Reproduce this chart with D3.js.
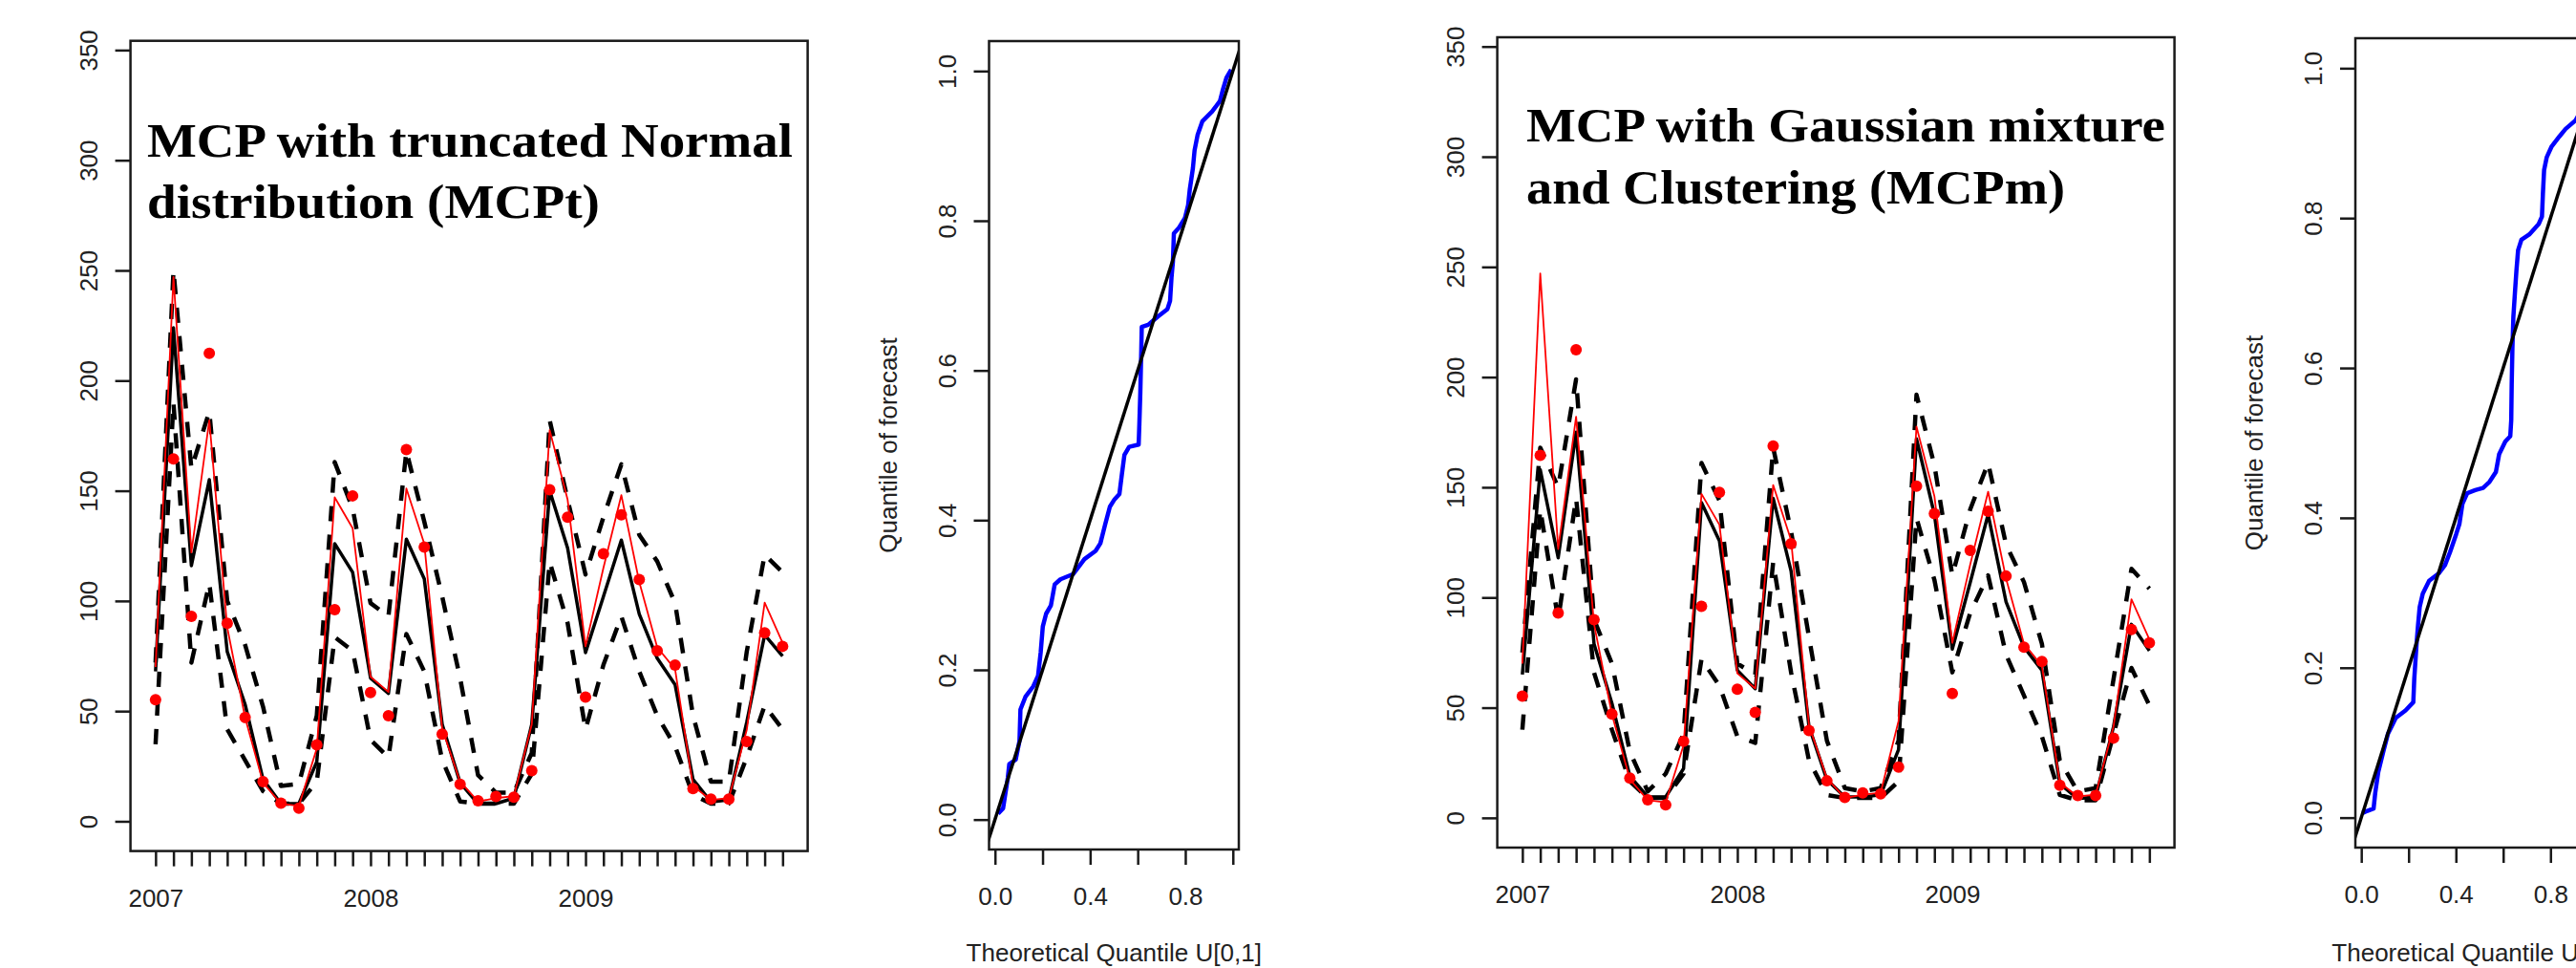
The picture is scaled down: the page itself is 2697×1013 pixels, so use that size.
<!DOCTYPE html>
<html><head><meta charset="utf-8">
<script src="https://cdn.jsdelivr.net/npm/d3@7"></script>
<style>body{margin:0;background:#fff}svg{display:block}</style>
</head><body>
<svg id="chart" width="2697" height="1013"></svg>
<script>
// ---------------- DATA ----------------
const months = ["2007-01","2007-02","2007-03","2007-04","2007-05","2007-06","2007-07","2007-08","2007-09","2007-10","2007-11","2007-12",
                "2008-01","2008-02","2008-03","2008-04","2008-05","2008-06","2008-07","2008-08","2008-09","2008-10","2008-11","2008-12",
                "2009-01","2009-02","2009-03","2009-04","2009-05","2009-06","2009-07","2009-08","2009-09","2009-10","2009-11","2009-12"];
const yearTickMonths = ["2007-01","2008-01","2009-01"];
const yearTickLabels = ["2007","2008","2009"];
const seriesTicks = [0,50,100,150,200,250,300,350];
const qqTicks = [0,0.2,0.4,0.6,0.8,1.0];
const qqTickLabels = ["0.0","","0.4","","0.8",""];

const observed = [55.2,164.5,93,212.4,89.9,47.1,18,8.2,5.9,34.7,96,147.7,58.4,47.9,168.7,124.4,39.6,16.8,9.3,11.3,10.9,23,150.5,138,56.4,121.4,139.1,109.7,77.4,70.9,14.8,10.1,10.1,36.2,85.5,79.4];
const benchmark = [70,247,122,182,88,47,17.5,8,7,33,147,133,65.6,58.7,151,126,42,18,9,10.5,11.4,44,177.5,146,79.4,115,148,108.6,79,69,16,9.7,10.5,41.5,99.2,81];

const mcptMedian = [68,224,116,155,77,53,19,8,8,27,126,113,65,58,128,110,44,17.5,8,8,10.5,44,150,124,76.5,102,127.6,94,74,62,19,8.8,9.7,45,84.6,75];
const mcptUpper  = [72,250,160,186,100,80,52,16,17,48,163,142,99,93,168,136,102,65,21,13,13,31,182,146,112,138,162,130,118,99,48,18,18,77,121,113];
const mcptLower  = [35,190,72,108,41.7,27.7,13.7,8,8,18,83.6,77.4,37,29,85,68,27.7,9,8,8,8,21.5,117.8,90,41.7,71,93,68,48,34,12,8,8,29,52.5,41.7];

const mcpmMedian = [65,158,118,175,79,52,19,9.5,9.5,22.4,143,125.7,67,58.6,145,112,41.4,17.3,9.5,9.5,10.4,31,172,137.7,76.6,106.8,137.7,98,77.5,67,15.5,8.7,9.5,41.4,87.8,75.8];
const mcpmUpper  = [75,168,150,199,90,70,30,12,20,38,161,144,70,65,168,130,82,35,13.5,12,13.5,35,192,160,110,140,161,124,107,79,26,12,13.5,63,113,104];
const mcpmLower  = [40,140,90,145,66,40,16.6,9,9,20,72,60,37,34,116,66,26,10.4,9,9,9,16.6,136,108,66,93,110,74,55.5,37,10.4,8,8,38,68,51];

const qqMcptU = [0.013,0.034,0.054,0.06,0.087,0.103,0.107,0.128,0.161,0.181,0.192,0.201,0.215,0.235,0.251,0.275,0.329,0.376,0.423,0.443,0.463,0.483,0.503,0.523,0.533,0.544,0.564,0.604,0.607,0.611,0.615,0.617,0.644,0.685,0.725,0.736,0.742,0.748,0.752,0.772,0.799,0.812,0.819,0.832,0.839,0.852,0.872,0.913,0.946,0.957,0.973,0.993];
const qqMcptQ = [0.008,0.015,0.056,0.074,0.08,0.105,0.147,0.164,0.178,0.192,0.223,0.258,0.275,0.286,0.314,0.321,0.328,0.348,0.359,0.369,0.394,0.418,0.428,0.435,0.46,0.487,0.498,0.501,0.529,0.571,0.627,0.658,0.661,0.672,0.682,0.693,0.724,0.745,0.783,0.79,0.804,0.821,0.842,0.87,0.894,0.915,0.933,0.946,0.96,0.974,0.991,1.002];

const qqMcpmU = [0.005,0.026,0.052,0.059,0.072,0.093,0.113,0.146,0.187,0.22,0.224,0.234,0.24,0.247,0.26,0.287,0.328,0.354,0.375,0.401,0.415,0.428,0.448,0.482,0.515,0.542,0.569,0.583,0.609,0.63,0.634,0.636,0.639,0.643,0.65,0.656,0.663,0.677,0.71,0.75,0.764,0.768,0.773,0.784,0.804,0.838,0.864,0.905,0.95,0.99];
const qqMcpmQ = [0.006,0.009,0.012,0.033,0.061,0.088,0.112,0.133,0.143,0.154,0.185,0.233,0.257,0.281,0.299,0.316,0.326,0.337,0.354,0.378,0.392,0.419,0.433,0.437,0.44,0.448,0.461,0.485,0.502,0.509,0.53,0.578,0.626,0.668,0.702,0.73,0.757,0.771,0.778,0.792,0.802,0.833,0.864,0.881,0.895,0.909,0.919,0.93,0.955,0.995];

const titleMcpt = ["MCP with truncated Normal","distribution (MCPt)"];
const titleMcpm = ["MCP with Gaussian mixture","and Clustering (MCPm)"];
const qqYLabel = "Quantile of forecast";
const qqXLabel = "Theoretical Quantile U[0,1]";

// ---------------- DRAWING ----------------
const svg = d3.select("#chart");
svg.append("rect").attr("width",2697).attr("height",1013).attr("fill","#fff");
const SANS = "'Liberation Sans', Arial, sans-serif";
const SERIF = "'Liberation Serif', 'Times New Roman', serif";
const INK = "#1a1a1a";
let clipId = 0;

function makeClip(x0,x1,y0,y1){
  const id = "clip"+(clipId++);
  svg.append("clipPath").attr("id",id).append("rect")
    .attr("x",x0).attr("y",y0).attr("width",x1-x0).attr("height",y1-y0);
  return "url(#"+id+")";
}

function styleAxis(a){
  a.selectAll("line").attr("stroke",INK).attr("stroke-width",2.5);
  a.select(".domain").attr("stroke",INK).attr("stroke-width",2.5);
  a.selectAll("text").attr("font-family",SANS).attr("font-size",26).attr("fill","#222");
}

function leftAxis(scale, ticks, xPos, fmt){
  const a = svg.append("g").attr("transform",`translate(${xPos},0)`)
    .call(d3.axisLeft(scale).tickValues(ticks).tickSize(16).tickSizeOuter(0).tickFormat(fmt));
  styleAxis(a);
  a.selectAll("text").attr("x",0).attr("y",0).attr("dy",null)
    .attr("text-anchor","middle").attr("transform","translate(-35,0) rotate(-90)");
  a.select(".domain").remove();
}

function bottomAxis(scale, ticks, yPos, fmt){
  const a = svg.append("g").attr("transform",`translate(0,${yPos})`)
    .call(d3.axisBottom(scale).tickValues(ticks).tickSize(16).tickSizeOuter(0).tickFormat(fmt));
  styleAxis(a);
  a.selectAll("text").attr("y",58).attr("dy",null);
  a.select(".domain").remove();
}

function box(x0,x1,y0,y1){
  svg.append("rect").attr("x",x0).attr("y",y0).attr("width",x1-x0).attr("height",y1-y0)
    .attr("fill","none").attr("stroke",INK).attr("stroke-width",2.5);
}

function seriesPanel(p, median, upper, lower, title){
  const x = d3.scaleLinear().domain([-1.4,36.4]).range([p.x0,p.x1]);
  const y = d3.scaleLinear().domain([-13.5,354.2]).range([p.y1,p.y0]);
  const xi = m => x(months.indexOf(m));
  const clip = makeClip(p.x0,p.x1,p.y0,p.y1);
  const g = svg.append("g").attr("clip-path",clip);
  const line = d3.line().x((d,i)=>x(i)).y(d=>y(d));
  [upper, lower].forEach(s=>{
    g.append("path").attr("d",line(s)).attr("fill","none").attr("stroke","#000")
      .attr("stroke-width",4.5).attr("stroke-dasharray","16,14").attr("stroke-linejoin","round");
  });
  g.append("path").attr("d",line(median)).attr("fill","none").attr("stroke","#000")
    .attr("stroke-width",3.5).attr("stroke-linejoin","round");
  g.append("path").attr("d",line(benchmark)).attr("fill","none").attr("stroke","#ff0000")
    .attr("stroke-width",1.8).attr("stroke-linejoin","round");
  g.selectAll("circle.obs").data(observed).enter().append("circle")
    .attr("cx",(d,i)=>x(i)).attr("cy",d=>y(d)).attr("r",6).attr("fill","#ff0000");

  leftAxis(y, seriesTicks, p.x0, d3.format("d"));
  // all monthly ticks, labels only at years
  const a = svg.append("g").attr("transform",`translate(0,${p.y1})`)
    .call(d3.axisBottom(x).tickValues(months.map((m,i)=>i)).tickSize(16).tickSizeOuter(0)
      .tickFormat(i=>{const k=yearTickMonths.indexOf(months[i]);return k>=0?yearTickLabels[k]:"";}));
  styleAxis(a);
  a.selectAll("text").attr("y",58).attr("dy",null);
  a.select(".domain").remove();
  box(p.x0,p.x1,p.y0,p.y1);

  svg.append("text").attr("x",p.tx).attr("y",p.ty1).attr("font-family",SERIF).attr("font-weight","bold")
    .attr("font-size",51).attr("textLength",p.tw1).attr("lengthAdjust","spacingAndGlyphs").attr("fill","#000").text(title[0]);
  svg.append("text").attr("x",p.tx).attr("y",p.ty2).attr("font-family",SERIF).attr("font-weight","bold")
    .attr("font-size",51).attr("textLength",p.tw2).attr("lengthAdjust","spacingAndGlyphs").attr("fill","#000").text(title[1]);
}

function qqPanel(p, us, qs){
  const x = d3.scaleLinear().domain([-0.025,1.025]).range([p.x0,p.x1]);
  const y = d3.scaleLinear().domain([-0.04,1.04]).range([p.y1,p.y0]);
  const clip = makeClip(p.x0,p.x1,p.y0,p.y1);
  const g = svg.append("g").attr("clip-path",clip);
  const pts = us.map((u,i)=>[u,qs[i]]);
  g.append("path").attr("d",d3.line().x(d=>x(d[0])).y(d=>y(d[1]))(pts))
    .attr("fill","none").attr("stroke","#0000ff").attr("stroke-width",4.5).attr("stroke-linejoin","round");
  g.append("path").attr("d",d3.line().x(d=>x(d)).y(d=>y(d))([-0.1,1.1]))
    .attr("fill","none").attr("stroke","#000").attr("stroke-width",3.5);

  leftAxis(y, qqTicks, p.x0, d=>d3.format(".1f")(d));
  bottomAxis(x, qqTicks, p.y1, (d,i)=>qqTickLabels[i]);
  box(p.x0,p.x1,p.y0,p.y1);

  const cy = (p.y0+p.y1)/2;
  svg.append("text").attr("transform",`translate(${p.x0-97},${cy}) rotate(-90)`)
    .attr("text-anchor","middle").attr("font-family",SANS).attr("font-size",26).attr("fill","#222").text(qqYLabel);
  svg.append("text").attr("x",(p.x0+p.x1)/2).attr("y",1006).attr("text-anchor","middle")
    .attr("font-family",SANS).attr("font-size",26).attr("fill","#222").text(qqXLabel);
}

seriesPanel({x0:136.6,x1:845.6,y0:42.7,y1:890.6,tx:154,ty1:164,ty2:228,tw1:676,tw2:474}, mcptMedian, mcptUpper, mcptLower, titleMcpt);
qqPanel({x0:1035.5,x1:1297,y0:43,y1:889}, qqMcptU, qqMcptQ);
seriesPanel({x0:1567.6,x1:2276.6,y0:39,y1:887,tx:1598,ty1:148,ty2:213,tw1:669,tw2:564}, mcpmMedian, mcpmUpper, mcpmLower, titleMcpm);
qqPanel({x0:2466,x1:2726,y0:40,y1:887}, qqMcpmU, qqMcpmQ);
</script>
</body></html>
